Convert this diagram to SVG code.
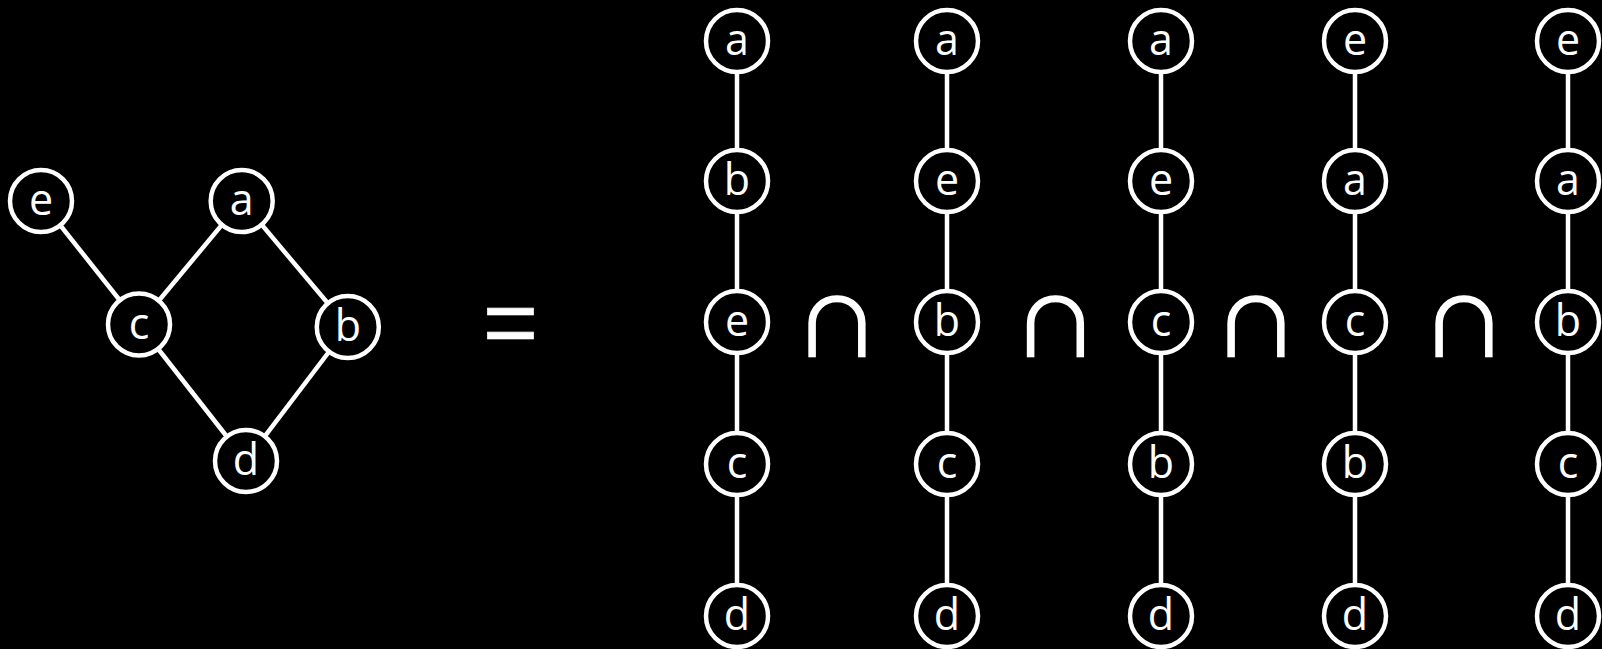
<svg xmlns="http://www.w3.org/2000/svg" width="1602" height="649" viewBox="0 0 1602 649">
<style>
.n{fill:#000;stroke:#fff;stroke-width:4.5}
.t{fill:#fff;font-family:"Open Sans","DejaVu Sans",sans-serif;font-size:43px;text-anchor:middle}
.e{stroke:#fff;stroke-width:4.5;fill:none}
.op{fill:#fff;font-family:"Liberation Sans","DejaVu Sans",sans-serif;text-anchor:middle}
.cap{fill:#fff;stroke:#fff;stroke-width:1.4;font-family:"Noto Sans CJK JP","DejaVu Sans",sans-serif;font-size:80px;text-anchor:middle}
</style>
<rect width="1602" height="649" fill="#000"/>
<g id="connectors">
<line class="e" x1="41" y1="201" x2="139" y2="324.5"/>
<line class="e" x1="241.7" y1="201" x2="139" y2="324.5"/>
<line class="e" x1="241.7" y1="201" x2="347.8" y2="327"/>
<line class="e" x1="139" y1="324.5" x2="246" y2="461"/>
<line class="e" x1="347.8" y1="327" x2="246" y2="461"/>
<line class="e" x1="737" y1="41" x2="737" y2="616"/>
<line class="e" x1="947" y1="41" x2="947" y2="616"/>
<line class="e" x1="1161" y1="41" x2="1161" y2="616"/>
<line class="e" x1="1355" y1="41" x2="1355" y2="616"/>
<line class="e" x1="1568" y1="41" x2="1568" y2="616"/>
</g>
<g id="g-e"><circle class="n" cx="41" cy="201" r="31"/><text class="t" x="41" y="215">e</text></g>
<g id="g-a"><circle class="n" cx="241.7" cy="201" r="31"/><text class="t" x="241.7" y="215">a</text></g>
<g id="g-c"><circle class="n" cx="139" cy="324.5" r="31"/><text class="t" x="139" y="338.5">c</text></g>
<g id="g-b"><circle class="n" cx="347.8" cy="327" r="31"/><text class="t" x="347.8" y="341">b</text></g>
<g id="g-d"><circle class="n" cx="246" cy="461" r="31"/><text class="t" x="246" y="475">d</text></g>
<text id="equals" class="op" x="510.5" y="355" font-size="95" style="stroke:#fff;stroke-width:0.6">=</text>
<g id="c1-a"><circle class="n" cx="737" cy="41" r="31"/><text class="t" x="737" y="55">a</text></g>
<g id="c1-b"><circle class="n" cx="737" cy="181" r="31"/><text class="t" x="737" y="195">b</text></g>
<g id="c1-e"><circle class="n" cx="737" cy="322" r="31"/><text class="t" x="737" y="336">e</text></g>
<g id="c1-c"><circle class="n" cx="737" cy="464" r="31"/><text class="t" x="737" y="478">c</text></g>
<g id="c1-d"><circle class="n" cx="737" cy="616" r="31"/><text class="t" x="737" y="630">d</text></g>
<g id="c2-a"><circle class="n" cx="947" cy="41" r="31"/><text class="t" x="947" y="55">a</text></g>
<g id="c2-e"><circle class="n" cx="947" cy="181" r="31"/><text class="t" x="947" y="195">e</text></g>
<g id="c2-b"><circle class="n" cx="947" cy="322" r="31"/><text class="t" x="947" y="336">b</text></g>
<g id="c2-c"><circle class="n" cx="947" cy="464" r="31"/><text class="t" x="947" y="478">c</text></g>
<g id="c2-d"><circle class="n" cx="947" cy="616" r="31"/><text class="t" x="947" y="630">d</text></g>
<g id="c3-a"><circle class="n" cx="1161" cy="41" r="31"/><text class="t" x="1161" y="55">a</text></g>
<g id="c3-e"><circle class="n" cx="1161" cy="181" r="31"/><text class="t" x="1161" y="195">e</text></g>
<g id="c3-c"><circle class="n" cx="1161" cy="322" r="31"/><text class="t" x="1161" y="336">c</text></g>
<g id="c3-b"><circle class="n" cx="1161" cy="464" r="31"/><text class="t" x="1161" y="478">b</text></g>
<g id="c3-d"><circle class="n" cx="1161" cy="616" r="31"/><text class="t" x="1161" y="630">d</text></g>
<g id="c4-e"><circle class="n" cx="1355" cy="41" r="31"/><text class="t" x="1355" y="55">e</text></g>
<g id="c4-a"><circle class="n" cx="1355" cy="181" r="31"/><text class="t" x="1355" y="195">a</text></g>
<g id="c4-c"><circle class="n" cx="1355" cy="322" r="31"/><text class="t" x="1355" y="336">c</text></g>
<g id="c4-b"><circle class="n" cx="1355" cy="464" r="31"/><text class="t" x="1355" y="478">b</text></g>
<g id="c4-d"><circle class="n" cx="1355" cy="616" r="31"/><text class="t" x="1355" y="630">d</text></g>
<g id="c5-e"><circle class="n" cx="1568" cy="41" r="31"/><text class="t" x="1568" y="55">e</text></g>
<g id="c5-a"><circle class="n" cx="1568" cy="181" r="31"/><text class="t" x="1568" y="195">a</text></g>
<g id="c5-b"><circle class="n" cx="1568" cy="322" r="31"/><text class="t" x="1568" y="336">b</text></g>
<g id="c5-c"><circle class="n" cx="1568" cy="464" r="31"/><text class="t" x="1568" y="478">c</text></g>
<g id="c5-d"><circle class="n" cx="1568" cy="616" r="31"/><text class="t" x="1568" y="630">d</text></g>
<g id="ops">
<text class="cap" transform="translate(837 356) scale(1.08 1)">∩</text>
<text class="cap" transform="translate(1055.5 356) scale(1.08 1)">∩</text>
<text class="cap" transform="translate(1256 356) scale(1.08 1)">∩</text>
<text class="cap" transform="translate(1464 356) scale(1.08 1)">∩</text>
</g>
</svg>
